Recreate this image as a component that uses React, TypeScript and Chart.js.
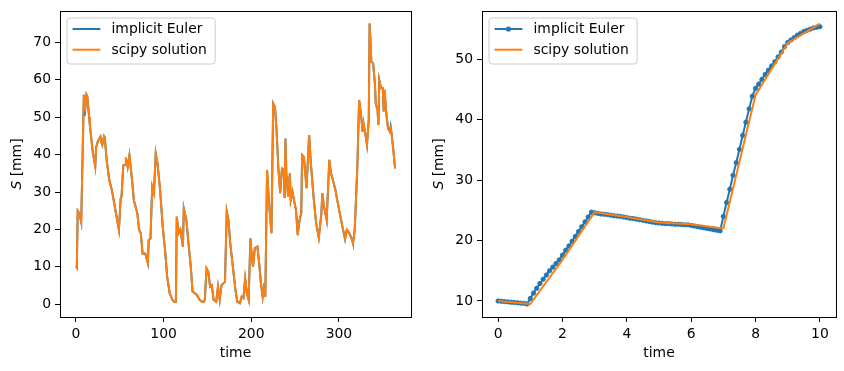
import React, { useEffect, useRef } from 'react';
import { Chart, registerables } from 'chart.js';

Chart.register(...registerables);

// ---------- Left panel: daily series (time in days) ----------
const leftTime = [0, 1, 2, 4, 6, 9, 10, 12, 13, 15, 16, 19, 22, 23, 25, 26, 28, 29, 30, 32, 33, 35, 38, 41, 45, 49, 51, 52, 54, 56, 57, 59, 61, 64, 66, 70, 72, 74, 76, 79, 80, 82, 83, 85, 87, 89, 90, 91, 93, 96, 99, 102, 104, 107, 110, 112, 114, 115, 117, 119, 122, 123, 126, 128, 131, 133, 136, 138, 141, 144, 146, 147, 148, 149, 151, 153, 155, 157, 160, 162, 164, 166, 168, 170, 172, 174, 176, 179, 182, 184, 187, 189, 191, 193, 195, 197, 199, 200, 202, 204, 207, 209, 211, 213, 215, 216, 218, 220, 223, 225, 227, 229, 231, 233, 235, 237, 238, 239, 240, 242, 244, 245, 247, 249, 251, 253, 255, 257, 258, 260, 263, 266, 268, 271, 274, 277, 280, 281, 283, 286, 289, 291, 294, 296, 298, 301, 304, 307, 309, 312, 315, 316, 318, 321, 323, 325, 327, 328, 330, 332, 334, 335, 337, 339, 341, 342, 344, 345, 346, 348, 350, 351, 352, 354, 356, 358, 359, 360, 362, 364];
const leftScipy = [10.2, 9.8, 25.0, 24.3, 22.0, 56.0, 51.5, 56.0, 55.5, 50.0, 47.5, 41.0, 36.8, 42.0, 43.5, 44.0, 44.8, 43.3, 42.6, 44.8, 44.2, 38.6, 33.2, 30.5, 25.2, 19.9, 28.3, 28.8, 37.1, 37.3, 39.2, 36.7, 39.8, 33.2, 27.9, 24.3, 19.9, 19.0, 13.6, 13.6, 12.7, 11.0, 17.2, 17.6, 31.4, 29.7, 35.0, 40.3, 37.7, 30.5, 20.7, 13.6, 7.4, 2.9, 1.2, 0.7, 0.7, 23.4, 19.0, 20.0, 15.4, 25.6, 22.5, 17.2, 10.0, 3.4, 2.9, 2.5, 1.2, 0.7, 0.7, 1.2, 5.6, 9.6, 8.7, 4.7, 5.1, 1.2, 0.7, 4.7, 1.2, 5.1, 5.6, 6.0, 24.8, 22.5, 16.3, 10.0, 3.8, 0.7, 0.3, 2.0, 1.6, 6.9, 2.9, 1.2, 17.6, 14.5, 10.0, 15.0, 15.4, 11.0, 5.6, 2.0, 5.6, 2.0, 35.9, 27.9, 19.0, 53.7, 52.8, 45.7, 35.9, 29.7, 36.3, 35.9, 28.4, 44.0, 35.0, 28.8, 35.0, 27.9, 30.1, 27.5, 25.2, 18.5, 22.5, 24.3, 39.9, 39.4, 31.0, 45.2, 37.6, 28.8, 21.6, 17.8, 24.3, 29.7, 26.1, 22.5, 38.6, 35.0, 32.4, 30.5, 27.9, 24.3, 20.7, 17.4, 19.9, 19.0, 17.2, 16.3, 19.9, 36.8, 54.6, 51.0, 46.1, 48.4, 45.7, 42.6, 49.3, 75.0, 64.8, 64.4, 59.0, 53.7, 51.9, 47.9, 59.9, 57.7, 57.7, 51.5, 57.3, 51.0, 47.0, 46.1, 47.0, 45.7, 41.3, 36.3];
// implicit Euler lies on top of the scipy solution in this panel
const leftEuler = [10.2, 9.8, 25.0, 24.3, 22.0, 56.0, 50.3, 56.0, 55.5, 50.0, 47.5, 41.0, 36.8, 42.0, 43.5, 44.0, 44.8, 43.3, 42.6, 44.8, 44.2, 38.6, 33.2, 30.5, 25.2, 19.9, 28.3, 28.8, 37.1, 37.3, 39.2, 36.7, 39.8, 33.2, 27.9, 24.3, 19.9, 19.0, 13.6, 13.6, 12.7, 11.0, 17.2, 17.6, 31.4, 29.7, 35.0, 40.3, 37.7, 30.5, 20.7, 13.6, 7.4, 2.9, 1.2, 0.7, 0.7, 23.4, 19.0, 20.0, 15.4, 25.6, 22.5, 17.2, 10.0, 3.4, 2.9, 2.5, 1.2, 0.7, 0.7, 1.2, 5.6, 9.6, 8.7, 4.7, 5.1, 1.2, 0.7, 4.7, 1.2, 5.1, 5.6, 6.0, 24.8, 22.5, 16.3, 10.0, 3.8, 0.7, 0.3, 2.0, 1.6, 6.9, 2.9, 1.2, 17.6, 14.5, 10.0, 15.0, 15.4, 11.0, 5.6, 2.0, 5.6, 2.0, 35.9, 27.9, 19.0, 53.7, 52.8, 45.7, 35.9, 29.7, 36.3, 35.9, 28.4, 44.3, 35.0, 28.8, 35.0, 27.9, 30.1, 27.5, 25.2, 18.5, 22.5, 24.3, 39.9, 39.4, 31.0, 45.2, 37.6, 28.8, 21.6, 17.8, 24.3, 29.7, 26.1, 22.5, 38.6, 35.0, 32.4, 30.5, 27.9, 24.3, 20.7, 17.4, 19.9, 19.0, 17.2, 16.3, 19.9, 36.8, 54.6, 51.0, 46.1, 48.4, 45.7, 42.6, 49.3, 75.0, 64.8, 64.4, 59.0, 53.7, 51.9, 47.9, 59.9, 57.7, 57.7, 51.5, 57.3, 51.0, 47.0, 46.1, 47.5, 45.7, 41.3, 36.3];

// ---------- Right panel: first 10 days ----------
const rightEulerTime = [0, 0.1, 0.2, 0.3, 0.4, 0.5, 0.6, 0.7, 0.8, 0.9, 1, 1.1, 1.2, 1.3, 1.4, 1.5, 1.6, 1.7, 1.8, 1.9, 2, 2.1, 2.2, 2.3, 2.4, 2.5, 2.6, 2.7, 2.8, 2.9, 3, 3.1, 3.2, 3.3, 3.4, 3.5, 3.6, 3.7, 3.8, 3.9, 4, 4.1, 4.2, 4.3, 4.4, 4.5, 4.6, 4.7, 4.8, 4.9, 5, 5.1, 5.2, 5.3, 5.4, 5.5, 5.6, 5.7, 5.8, 5.9, 6, 6.1, 6.2, 6.3, 6.4, 6.5, 6.6, 6.7, 6.8, 6.9, 7, 7.1, 7.2, 7.3, 7.4, 7.5, 7.6, 7.7, 7.8, 7.9, 8, 8.1, 8.2, 8.3, 8.4, 8.5, 8.6, 8.7, 8.8, 8.9, 9, 9.1, 9.2, 9.3, 9.4, 9.5, 9.6, 9.7, 9.8, 9.9, 10];
const rightEuler = [10.0, 9.95, 9.9, 9.85, 9.8, 9.75, 9.7, 9.65, 9.6, 9.5, 10.4, 11.3, 12.1, 12.9, 13.6, 14.3, 15.0, 15.6, 16.2, 16.8, 17.6, 18.4, 19.1, 19.9, 20.7, 21.5, 22.3, 23.1, 23.9, 24.7, 24.6, 24.5, 24.4, 24.35, 24.3, 24.2, 24.1, 24.05, 24.0, 23.9, 23.8, 23.7, 23.65, 23.55, 23.45, 23.35, 23.25, 23.15, 23.05, 22.95, 22.9, 22.85, 22.8, 22.8, 22.75, 22.7, 22.7, 22.65, 22.6, 22.6, 22.5, 22.4, 22.3, 22.2, 22.1, 22.0, 21.9, 21.8, 21.7, 21.6, 24.0, 26.3, 28.5, 30.8, 32.9, 35.1, 37.4, 39.6, 41.8, 43.9, 45.2, 45.9, 46.7, 47.5, 48.2, 48.9, 49.6, 50.4, 51.2, 52.1, 52.8, 53.2, 53.6, 54.0, 54.3, 54.6, 54.8, 55.0, 55.2, 55.3, 55.4];
const rightScipyTime = [0, 1, 2, 3, 4, 5, 6, 7, 8, 9, 10];
const rightScipy = [10.0, 9.5, 16.8, 24.7, 23.9, 23.0, 22.7, 22.0, 44.1, 52.7, 55.9];

// ---------- Ticks ----------
const leftXTicks = [0, 100, 200, 300];
const leftYTicks = [0, 10, 20, 30, 40, 50, 60, 70];
const rightXTicks = [0, 2, 4, 6, 8, 10];
const rightYTicks = [10, 20, 30, 40, 50];

const BLUE = '#1f77b4';
const ORANGE = '#ff7f0e';
const FS = 13.9;
const FAMILY = '"DejaVu Sans", sans-serif';

const decorPlugin = {
  id: 'mplDecor',
  afterDraw(chart: any, _args: any, opts: any) {
    const { ctx, chartArea: a } = chart;
    ctx.save();
    // axes box
    ctx.strokeStyle = '#000';
    ctx.lineWidth = 1;
    ctx.strokeRect(a.left + 0.5, a.top + 0.5, a.right - a.left - 1 + 1, a.bottom - a.top);

    // legend
    const items = opts.items || [];
    ctx.font = `${FS}px ${FAMILY}`;
    const textW = Math.max(...items.map((it: any) => ctx.measureText(it.label).width));
    const bx = a.left + 7;
    const by = a.top + 7;
    const bw = 44.5 + textW + 8.5;
    const bh = 46;
    const r = 3;
    ctx.beginPath();
    ctx.moveTo(bx + r, by);
    ctx.lineTo(bx + bw - r, by);
    ctx.quadraticCurveTo(bx + bw, by, bx + bw, by + r);
    ctx.lineTo(bx + bw, by + bh - r);
    ctx.quadraticCurveTo(bx + bw, by + bh, bx + bw - r, by + bh);
    ctx.lineTo(bx + r, by + bh);
    ctx.quadraticCurveTo(bx, by + bh, bx, by + bh - r);
    ctx.lineTo(bx, by + r);
    ctx.quadraticCurveTo(bx, by, bx + r, by);
    ctx.closePath();
    ctx.fillStyle = 'rgba(255,255,255,0.8)';
    ctx.fill();
    ctx.strokeStyle = '#cccccc';
    ctx.lineWidth = 1;
    ctx.stroke();
    items.forEach((it: any, i: number) => {
      const cy = by + 11 + i * 20.7;
      ctx.strokeStyle = it.color;
      ctx.lineWidth = 2;
      ctx.beginPath();
      ctx.moveTo(bx + 5.6, cy);
      ctx.lineTo(bx + 33.4, cy);
      ctx.stroke();
      if (it.marker) {
        ctx.fillStyle = it.color;
        ctx.beginPath();
        ctx.arc(bx + 19.5, cy, 2.6, 0, Math.PI * 2);
        ctx.fill();
      }
      ctx.fillStyle = '#000';
      ctx.textBaseline = 'middle';
      ctx.textAlign = 'left';
      ctx.fillText(it.label, bx + 44.5, cy + 0.5);
    });

    // x label
    ctx.fillStyle = '#000';
    ctx.font = `${FS}px ${FAMILY}`;
    ctx.textAlign = 'center';
    ctx.textBaseline = 'middle';
    ctx.fillText(opts.xlabel, (a.left + a.right) / 2, 353);

    // y label with italic S
    ctx.translate(opts.ylabelX, (a.top + a.bottom) / 2);
    ctx.rotate(-Math.PI / 2);
    ctx.font = `italic ${FS}px ${FAMILY}`;
    const w1 = ctx.measureText('S').width;
    ctx.font = `${FS}px ${FAMILY}`;
    const w2 = ctx.measureText(' [mm]').width;
    const start = -(w1 + w2) / 2;
    ctx.textAlign = 'left';
    ctx.font = `italic ${FS}px ${FAMILY}`;
    ctx.fillText('S', start, 0);
    ctx.font = `${FS}px ${FAMILY}`;
    ctx.fillText(' [mm]', start + w1, 0);
    ctx.restore();
  },
};

function makeScale(min: number, max: number, ticks: number[], isX: boolean, fit: number) {
  return {
    type: 'linear',
    min,
    max,
    afterBuildTicks: (scale: any) => {
      scale.ticks = ticks.map((v) => ({ value: v }));
    },
    afterFit: (scale: any) => {
      if (isX) scale.height = fit;
      else scale.width = fit;
      scale.paddingLeft = 0;
      scale.paddingRight = 0;
      scale.paddingTop = 0;
      scale.paddingBottom = 0;
    },
    grid: {
      display: true,
      drawOnChartArea: false,
      drawTicks: true,
      tickLength: 5,
      color: '#000',
      lineWidth: 1,
    },
    border: { display: false },
    ticks: {
      autoSkip: false,
      maxRotation: 0,
      minRotation: 0,
      padding: 4,
      color: '#000',
      font: { family: FAMILY, size: FS },
      callback: (v: any) => String(v),
    },
  };
}

function Panel(props: { left: number; config: any }) {
  const ref = useRef<HTMLCanvasElement | null>(null);
  useEffect(() => {
    if (!ref.current) return;
    const chart = new Chart(ref.current, props.config);
    return () => chart.destroy();
  }, []);
  return (
    <canvas
      ref={ref}
      width={422}
      height={371}
      style={{ position: 'absolute', left: props.left, top: 0, width: 422, height: 371 }}
    />
  );
}

const pts = (xs: number[], ys: number[]) => xs.map((x, i) => ({ x, y: ys[i] }));

const leftConfig: any = {
  type: 'line',
  data: {
    datasets: [
      { label: 'scipy solution', data: pts(leftTime, leftScipy), borderColor: ORANGE, borderWidth: 2, pointRadius: 0, order: 0, fill: false },
      { label: 'implicit Euler', data: pts(leftTime, leftEuler), borderColor: BLUE, borderWidth: 2, pointRadius: 0, order: 1, fill: false },
    ],
  },
  options: {
    responsive: false,
    animation: false,
    devicePixelRatio: 1,
    layout: { padding: { left: 0, right: 11, top: 11, bottom: 0 } },
    scales: {
      x: makeScale(-18.2, 382.2, leftXTicks, true, 54),
      y: makeScale(-3.39, 78.36, leftYTicks, false, 60),
    },
    plugins: {
      legend: { display: false },
      tooltip: { enabled: false },
      mplDecor: {
        items: [
          { label: 'implicit Euler', color: BLUE, marker: false },
          { label: 'scipy solution', color: ORANGE, marker: false },
        ],
        xlabel: 'time',
        ylabelX: 17.5,
      },
    },
  },
  plugins: [decorPlugin],
};

const rightConfig: any = {
  type: 'line',
  data: {
    datasets: [
      { label: 'scipy solution', data: pts(rightScipyTime, rightScipy), borderColor: ORANGE, borderWidth: 2, pointRadius: 0, order: 0, fill: false },
      {
        label: 'implicit Euler',
        data: pts(rightEulerTime, rightEuler),
        borderColor: BLUE,
        borderWidth: 2,
        pointRadius: 2.2,
        pointBorderWidth: 0.8,
        pointBackgroundColor: BLUE,
        pointBorderColor: BLUE,
        order: 1,
        fill: false,
      },
    ],
  },
  options: {
    responsive: false,
    animation: false,
    devicePixelRatio: 1,
    layout: { padding: { left: 0, right: 8, top: 11, bottom: 0 } },
    scales: {
      x: makeScale(-0.5, 10.5, rightXTicks, true, 54),
      y: makeScale(7.35, 58.0, rightYTicks, false, 60),
    },
    plugins: {
      legend: { display: false },
      tooltip: { enabled: false },
      mplDecor: {
        items: [
          { label: 'implicit Euler', color: BLUE, marker: true },
          { label: 'scipy solution', color: ORANGE, marker: false },
        ],
        xlabel: 'time',
        ylabelX: 17,
      },
    },
  },
  plugins: [decorPlugin],
};

export default function App() {
  return (
    <div style={{ position: 'fixed', left: 0, top: 0, width: 844, height: 371, background: '#fff' }}>
      <Panel left={0} config={leftConfig} />
      <Panel left={422} config={rightConfig} />
    </div>
  );
}
